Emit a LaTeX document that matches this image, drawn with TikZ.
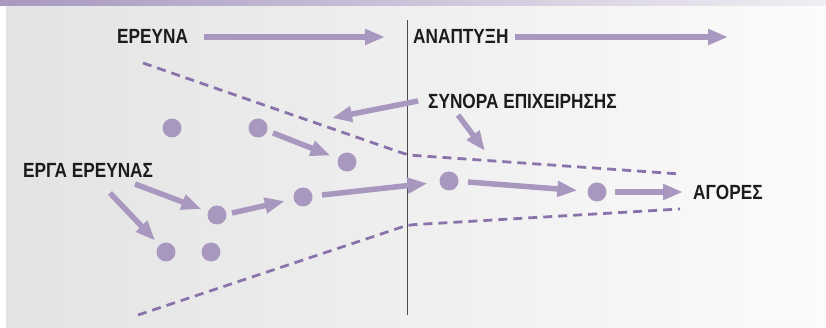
\documentclass[tikz,border=0pt]{standalone}
\usepackage{fontspec}
\setmainfont{Liberation Sans}[FakeStretch=0.84]
\usetikzlibrary{arrows.meta}
\definecolor{arrowc}{HTML}{A898BF}
\definecolor{dashc}{HTML}{8A72AA}
\definecolor{txt}{HTML}{1C1C1C}
\definecolor{bandL}{HTML}{A898C0}
\definecolor{bandR}{HTML}{F0EEF3}
\definecolor{panL}{HTML}{E3E3E4}
\definecolor{panR}{HTML}{FBFBFB}
\tikzset{
  lbl/.style={font=\fontsize{20.5}{24}\selectfont\bfseries, text=txt, inner sep=0pt},
  dot/.style={circle, fill=arrowc, minimum size=19pt, inner sep=0pt},
  flow/.style={draw=arrowc, line width=5.5pt, -{Triangle[length=20pt,width=15pt]}},
  gap/.style={shorten >=#1},
  bound/.style={draw=dashc, line width=2.8pt, dash pattern=on 9pt off 6pt, rounded corners=6pt},
  divider/.style={draw=black!70, line width=0.9pt}
}
\begin{document}
\begin{tikzpicture}[x=1pt,y=-1pt]
\useasboundingbox (0,0) rectangle (826,328);
\fill[white] (0,0) rectangle (826,328);
\shade[left color=panL, right color=panR] (6,6) rectangle (826,328);
\shade[left color=bandL, right color=bandR] (0,0) rectangle (826,6);

% divider
\coordinate (vtop) at (407,20);
\coordinate (vbot) at (407,315);
\draw[divider] (vtop) -- (vbot);

% header
\node[lbl, anchor=west] (res) at (117,36) {ΕΡΕΥΝΑ};
\node[lbl, anchor=west] (dev) at (413,36) {ΑΝΑΠΤΥΞΗ};
\coordinate (resS) at (204,37);
\coordinate (resE) at (385,37);
\coordinate (devS) at (515,37);
\coordinate (devE) at (728,37);
\draw[flow] (resS) -- (resE);
\draw[flow] (devS) -- (devE);

% boundaries
\coordinate (u1) at (143,63);
\coordinate (u2) at (408,155);
\coordinate (u3) at (680,174);
\coordinate (l1) at (138,315);
\coordinate (l2) at (408,225);
\coordinate (l3) at (680,209);
\draw[bound] (u1) -- (u2) -- (u3);
\draw[bound] (l1) -- (l2) -- (l3);

% dots
\node[dot] (d1) at (172,128) {};
\node[dot] (d2) at (258,128) {};
\node[dot] (d3) at (347,162) {};
\node[dot] (d4) at (303,197) {};
\node[dot] (d5) at (217,215) {};
\node[dot] (d6) at (166,252) {};
\node[dot] (d7) at (211,252) {};
\node[dot] (d8) at (449,181) {};
\node[dot] (d9) at (597,192) {};

% labels
\node[lbl, anchor=west] (proj) at (23,170) {ΕΡΓΑ ΕΡΕΥΝΑΣ};
\node[lbl, anchor=west] (bord) at (428,101) {ΣΥΝΟΡΑ ΕΠΙΧΕΙΡΗΣΗΣ};
\node[lbl, anchor=west] (mark) at (693,192) {ΑΓΟΡΕΣ};

% flows
\coordinate (p1) at (135,184);
\coordinate (p2) at (110,193);
\coordinate (b1) at (418,101);
\coordinate (b2) at (458,115);
\draw[flow, gap=8pt] (273,133) -- (d3);
\draw[flow, gap=7pt] (p1) -- (d5);
\draw[flow, gap=6pt] (p2) -- (d6);
\draw[flow, gap=9pt] (d5) ++(15,-2) -- (d4);
\draw[flow, gap=12pt] (d4) ++(19,-2) -- (d8);
\draw[flow, gap=10pt] (d8) ++(19,1) -- (d9);
\draw[flow, gap=10pt] (d9) ++(18,0) -- (mark);
\draw[flow] (b1) -- (332,118);
\draw[flow] (b2) -- (485,151);
\end{tikzpicture}
\end{document}
